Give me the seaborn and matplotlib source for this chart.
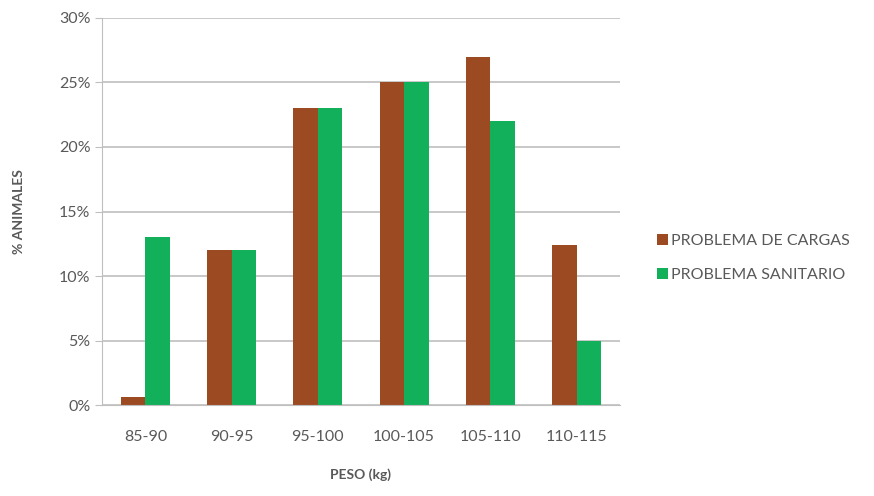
import pandas as pd
import matplotlib.pyplot as plt
import seaborn as sns
from matplotlib.ticker import PercentFormatter

# Datos
pesos = ["85-90", "90-95", "95-100", "100-105", "105-110", "110-115"]
cargas = [0.6, 12.0, 23.0, 25.0, 27.0, 12.4]
sanitario = [13.0, 12.0, 23.0, 25.0, 22.0, 5.0]
series = ["PROBLEMA DE CARGAS", "PROBLEMA SANITARIO"]
colores = ["#9C4A22", "#12B05A"]

df = pd.DataFrame({
    "peso": pesos * 2,
    "valor": cargas + sanitario,
    "serie": [series[0]] * len(pesos) + [series[1]] * len(pesos),
})

sns.set_style("white")
plt.rcParams["font.family"] = ["Lato", "DejaVu Sans"]
texto = "#595959"

fig = plt.figure(figsize=(8.74, 4.96), dpi=100)
ax = fig.add_axes([0.117, 0.183, 0.592, 0.781])

sns.barplot(data=df, x="peso", y="valor", hue="serie", palette=colores,
            width=0.57, saturation=1, linewidth=0, ax=ax, legend=True)

ax.set_ylim(0, 30)
ax.set_yticks(range(0, 31, 5))
ax.yaxis.set_major_formatter(PercentFormatter(decimals=0))
ax.grid(axis="y", color="#BFBFBF", linewidth=1.2)
ax.set_axisbelow(True)
for lado in ["top", "right"]:
    ax.spines[lado].set_visible(False)
ax.spines["left"].set_color("#BFBFBF")
ax.spines["bottom"].set_color("#BFBFBF")
ax.tick_params(axis="y", left=True, length=5, color="#BFBFBF", labelsize=11.5, labelcolor=texto)
ax.tick_params(axis="x", bottom=False, labelsize=11.5, labelcolor=texto, pad=14)

ax.set_xlabel("PESO (kg)", fontsize=10, fontweight="bold", color=texto, labelpad=18)
ax.set_ylabel("% ANIMALES", fontsize=10, fontweight="bold", color=texto, labelpad=24)

handles, labels = ax.get_legend_handles_labels()
ax.get_legend().remove()
fig.legend(handles, labels, loc="center left", bbox_to_anchor=(0.735, 0.48),
           frameon=False, fontsize=11.5, labelcolor=texto, handlelength=0.7,
           handleheight=0.7, handletextpad=0.2, labelspacing=1.2)

plt.savefig("out.png", dpi=100)
plt.close()
